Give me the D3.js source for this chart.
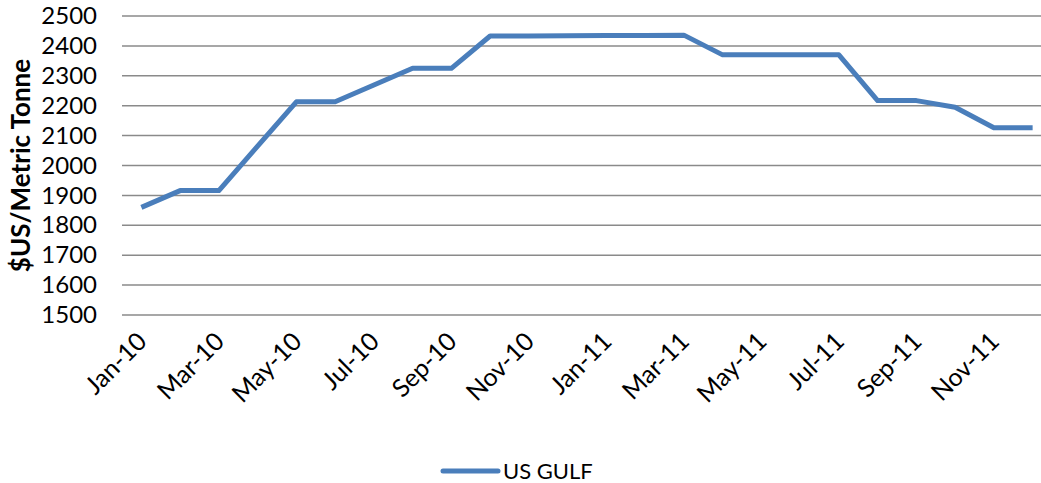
<!DOCTYPE html>
<html lang="en">
<head>
    <meta charset="UTF-8">
    <title>US Gulf price</title>
    <script src="https://cdn.jsdelivr.net/npm/d3@7"></script>
    <style>
        body { margin: 0; background: #fff; }
        svg text { font-family: Lato, "Open Sans", sans-serif; fill: #000; }
        .grid line { stroke: #8a8a8a; stroke-width: 1.5px; }
        .line { fill: none; stroke: #4a7ebb; stroke-width: 5px; stroke-linejoin: round; }
    </style>
</head>
<body>
    <script>
        // months shown on the x axis (every month is a point, every 2nd is labelled)
        const months = ["Jan-10", "Feb-10", "Mar-10", "Apr-10", "May-10", "Jun-10",
                        "Jul-10", "Aug-10", "Sep-10", "Oct-10", "Nov-10", "Dec-10",
                        "Jan-11", "Feb-11", "Mar-11", "Apr-11", "May-11", "Jun-11",
                        "Jul-11", "Aug-11", "Sep-11", "Oct-11", "Nov-11", "Dec-11"];
        const usGulf = [1860, 1916, 1916, 2065, 2213, 2213,
                        2269, 2325, 2325, 2433, 2433, 2434,
                        2435, 2435, 2436, 2370, 2370, 2370,
                        2370, 2217, 2217, 2195, 2126, 2126];
        const yTicks = [1500, 1600, 1700, 1800, 1900, 2000, 2100, 2200, 2300, 2400, 2500];
        const seriesName = "US GULF";
        const yTitle = "$US/Metric Tonne";

        const W = 1041, H = 483;
        const plotLeft = 122, plotRight = 1052, plotTop = 16, plotBottom = 315;

        const svg = d3.select("body").append("svg")
            .attr("width", W)
            .attr("height", H);

        const x = d3.scaleBand().domain(months).range([plotLeft, plotRight]);
        const y = d3.scaleLinear().domain([1500, 2500]).range([plotBottom, plotTop]);

        // horizontal gridlines
        svg.append("g").attr("class", "grid")
            .selectAll("line").data(yTicks).join("line")
            .attr("x1", plotLeft).attr("x2", plotRight)
            .attr("y1", d => y(d)).attr("y2", d => y(d));

        // y axis labels
        const yAxis = svg.append("g")
            .attr("transform", `translate(${plotLeft},0)`)
            .call(d3.axisLeft(y).tickValues(yTicks).tickFormat(d3.format("d")).tickSize(0).tickPadding(25));
        yAxis.select(".domain").remove();
        yAxis.selectAll("text").style("font-size", "24px").style("font-family", "Lato, sans-serif");

        svg.append("text")
            .attr("transform", `translate(30,${(plotTop + plotBottom) / 2}) rotate(-90)`)
            .attr("text-anchor", "middle")
            .style("font-size", "26px")
            .style("font-weight", "bold")
            .text(yTitle);

        // x axis labels, rotated
        const xAxis = svg.append("g")
            .attr("transform", `translate(0,${plotBottom})`)
            .call(d3.axisBottom(x).tickValues(months.filter((d, i) => i % 2 === 0)).tickSize(0));
        xAxis.select(".domain").remove();
        xAxis.selectAll("text")
            .style("font-size", "25px")
            .style("font-family", "Lato, sans-serif")
            .attr("text-anchor", "end")
            .attr("dy", null)
            .attr("y", 0)
            .attr("transform", "translate(7,28) rotate(-45)");

        const line = d3.line()
            .x((d, i) => x(months[i]) + x.bandwidth() / 2)
            .y(d => y(d));

        svg.append("path")
            .datum(usGulf)
            .attr("class", "line")
            .attr("d", line);

        // legend
        const lg = svg.append("g").attr("transform", "translate(443,471)");
        lg.append("line")
            .attr("x1", 0).attr("x2", 55)
            .attr("stroke", "#4a7ebb").attr("stroke-width", 5)
            .attr("stroke-linecap", "round");
        lg.append("text")
            .attr("x", 60).attr("y", 8)
            .style("font-size", "22px")
            .text(seriesName);
    </script>
</body>
</html>
